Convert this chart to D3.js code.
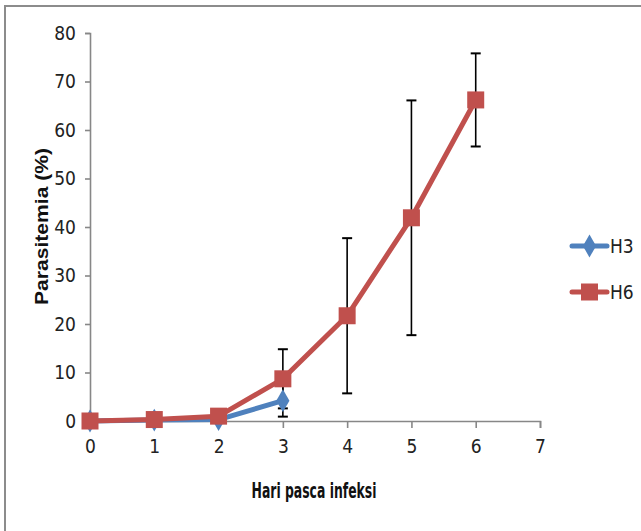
<!DOCTYPE html>
<html>
<head>
<meta charset="utf-8">
<script src="https://cdn.jsdelivr.net/npm/d3@7"></script>
<style>
  body { margin: 0; background: #fff; }
  text { font-family: "DejaVu Sans Condensed", Roboto, sans-serif; font-stretch: condensed; }
</style>
</head>
<body>
<svg id="chart"></svg>
<script>
// days after infection
var days = [0, 1, 2, 3, 4, 5, 6];

// H3 series (only up to day 3)
var h3Values = [0, 0.2, 0.3, 4.2];
var h3Errors = [0, 0, 0, 3.3];

// H6 series
var h6Values = [0, 0.3, 1.0, 8.7, 21.7, 41.9, 66.2];
var h6Errors = [0, 0, 0, 6.1, 16.0, 24.2, 9.6];

var xTicks = [0, 1, 2, 3, 4, 5, 6, 7];
var yTicks = [0, 10, 20, 30, 40, 50, 60, 70, 80];

var width = 641, height = 531;
var labelFont = "'DejaVu Sans Condensed', Roboto, sans-serif";

var svg = d3.select("#chart")
    .attr("width", width)
    .attr("height", height);

// outer chart frame (right and bottom run off the picture)
svg.append("path")
    .attr("d", "M5,540 L5,6 L650,6")
    .attr("fill", "none")
    .attr("stroke", "#8c8c8c")
    .attr("stroke-width", 2);

var xScale = d3.scaleLinear().domain([0, 7]).range([90, 540]),
    yScale = d3.scaleLinear().domain([0, 80]).range([421, 33]);

var axisColor = "#878787";

// y axis
var yAxis = svg.append("g")
    .attr("transform", "translate(" + xScale(0) + ",0)")
    .call(d3.axisLeft(yScale).tickValues(yTicks).tickFormat(d3.format("d")).tickSize(5).tickPadding(9));

// x axis
var xAxis = svg.append("g")
    .attr("transform", "translate(0," + yScale(0) + ")")
    .call(d3.axisBottom(xScale).tickValues(xTicks).tickFormat(d3.format("d")).tickSize(7).tickPadding(12));

[xAxis, yAxis].forEach(function (ax) {
    ax.select(".domain").attr("stroke", axisColor).attr("stroke-width", 1.6);
    ax.selectAll(".tick line").attr("stroke", axisColor).attr("stroke-width", 1.6);
    ax.selectAll(".tick text")
        .attr("fill", "#222")
        .style("font-size", "19px")
        .style("font-family", labelFont)
        .style("font-stretch", "condensed");
});

// axis titles
svg.append("text")
    .attr("transform", "translate(48," + 226.5 + ") rotate(-90)")
    .attr("text-anchor", "middle")
    .attr("textLength", 157)
    .attr("lengthAdjust", "spacingAndGlyphs")
    .style("font-family", "'Liberation Sans', Arial, sans-serif")
    .style("font-stretch", "normal")
    .style("font-weight", "bold")
    .style("font-size", "19px")
    .attr("fill", "#111")
    .text("Parasitemia (%)");

svg.append("text")
    .attr("x", 314)
    .attr("y", 498)
    .attr("text-anchor", "middle")
    .attr("textLength", 125)
    .attr("lengthAdjust", "spacingAndGlyphs")
    .style("font-weight", "bold")
    .style("font-size", "21px")
    .attr("fill", "#111")
    .text("Hari pasca infeksi");

var series = [
    { name: "H3", values: h3Values, errors: h3Errors, color: "#4f81bd", marker: "diamond" },
    { name: "H6", values: h6Values, errors: h6Errors, color: "#c0504d", marker: "square" }
];

var line = d3.line()
    .x(function (d, i) { return xScale(days[i]); })
    .y(function (d) { return yScale(d); });

function drawMarker(g, kind, color, cx, cy) {
    if (kind === "square") {
        g.append("rect")
            .attr("x", cx - 8.5).attr("y", cy - 8.5)
            .attr("width", 17).attr("height", 17)
            .attr("fill", color);
    } else {
        g.append("path")
            .attr("d", d3.symbol().type(d3.symbolDiamond).size(150)())
            .attr("transform", "translate(" + cx + "," + cy + ")")
            .attr("fill", color);
    }
}

// error bars
series.forEach(function (s) {
    var eb = svg.append("g").attr("class", "errors");
    s.values.forEach(function (v, i) {
        var e = s.errors[i];
        if (!e) return;
        var x = xScale(days[i]);
        var y1 = yScale(v + e), y2 = yScale(Math.max(0, v - e));
        eb.append("line").attr("x1", x).attr("x2", x).attr("y1", y1).attr("y2", y2)
            .attr("stroke", "#000").attr("stroke-width", 1.6);
        [y1, y2].forEach(function (yy) {
            eb.append("line").attr("x1", x - 5).attr("x2", x + 5).attr("y1", yy).attr("y2", yy)
                .attr("stroke", "#000").attr("stroke-width", 2);
        });
    });
});

// lines and markers
series.forEach(function (s) {
    var g = svg.append("g").attr("class", "series");
    g.append("path")
        .datum(s.values)
        .attr("d", line)
        .attr("fill", "none")
        .attr("stroke", s.color)
        .attr("stroke-width", 5)
        .attr("stroke-linejoin", "round");
    s.values.forEach(function (v, i) {
        drawMarker(g, s.marker, s.color, xScale(days[i]), yScale(v));
    });
});

// legend
var legend = svg.append("g");
series.forEach(function (s, i) {
    var ly = 246 + i * 46;
    legend.append("line")
        .attr("x1", 572).attr("x2", 607).attr("y1", ly).attr("y2", ly)
        .attr("stroke", s.color).attr("stroke-width", 5).attr("stroke-linecap", "round");
    drawMarker(legend, s.marker, s.color, 589.5, ly);
    legend.append("text")
        .attr("x", 610).attr("y", ly + 7)
        .style("font-size", "19px")
        .attr("fill", "#222")
        .text(s.name);
});
</script>
</body>
</html>
